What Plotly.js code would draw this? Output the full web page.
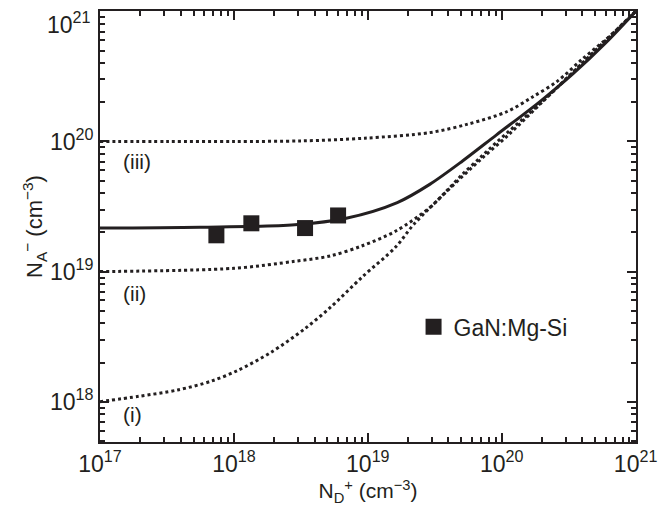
<!DOCTYPE html>
<html>
<head>
<meta charset="utf-8">
<script src="https://cdn.plot.ly/plotly-3.0.1.min.js"></script>
<style>html,body{margin:0;padding:0;background:#fff;}#chart{width:660px;height:511px;}</style>
</head>
<body>
<div id="chart"></div>
<script>
// Curve (i)
const xI = [1e17, 1.95e17, 3.8e17, 6.8e17, 1.07e18, 1.9e18, 3.4e18, 5.25e18, 9.1e18, 1.62e19, 2.2e19, 3.9e19, 6.9e19, 1.15e20, 2e20, 4e20, 1e21];
const yI = [1e18, 1.1e18, 1.23e18, 1.44e18, 1.74e18, 2.4e18, 3.65e18, 5.3e18, 9.1e18, 1.55e19, 2.3e19, 4.15e19, 7.2e19, 1.15e20, 2e20, 4e20, 1e21];
// Curve (ii)
const xII = [1e17, 1e18, 2.85e18, 5.25e18, 9.1e18, 1.62e19, 2.9e19, 3.9e19, 5.1e19, 6.9e19, 9.1e19, 2e20, 4e20, 1e21];
const yII = [1e19, 1.06e19, 1.2e19, 1.32e19, 1.58e19, 2.05e19, 3.1e19, 4.2e19, 5.6e19, 7.5e19, 9.8e19, 2.02e20, 4e20, 1e21];
// Curve (iii)
const xIII = [1e17, 3.2e17, 1e18, 3.2e18, 9.5e18, 2.9e19, 5.6e19, 1.1e20, 1.7e20, 2.6e20, 4e20, 6.8e20, 1e21];
const yIII = [1e20, 1e20, 1e20, 1.01e20, 1.06e20, 1.17e20, 1.36e20, 1.7e20, 2.2e20, 2.9e20, 4.3e20, 6.8e20, 1e21];
// Solid fit curve
const xFit = [1e17, 5.6e17, 2.85e18, 6.9e18, 1.66e19, 2.9e19, 5.1e19, 9.1e19, 1.9e20, 3.4e20, 6e20, 1e21];
const yFit = [2.16e19, 2.19e19, 2.29e19, 2.57e19, 3.39e19, 4.68e19, 7.08e19, 1.12e20, 2e20, 3.31e20, 5.75e20, 1e21];
// Measured GaN:Mg-Si
const xMeas = [7.4e17, 1.35e18, 3.4e18, 6e18];
const yMeas = [1.9e19, 2.35e19, 2.16e19, 2.7e19];
// Tick labels
const tickVals = [1e17, 1e18, 1e19, 1e20, 1e21];
const tickText = ['10<sup>17</sup>', '10<sup>18</sup>', '10<sup>19</sup>', '10<sup>20</sup>', '10<sup>21</sup>'];
const yTickVals = [1e18, 1e19, 1e20, 1e21];
const yTickText = ['10<sup>18</sup>', '10<sup>19</sup>', '10<sup>20</sup>', '10<sup>21</sup>'];

const ink = '#231f20';
const dotLine = {color: ink, width: 3, dash: '3px,3px', shape: 'spline', smoothing: 0.9};

const traces = [
  {x: xI, y: yI, mode: 'lines', line: dotLine, showlegend: false, hoverinfo: 'skip'},
  {x: xII, y: yII, mode: 'lines', line: dotLine, showlegend: false, hoverinfo: 'skip'},
  {x: xIII, y: yIII, mode: 'lines', line: dotLine, showlegend: false, hoverinfo: 'skip'},
  {x: xFit, y: yFit, mode: 'lines', line: {color: ink, width: 3, shape: 'spline', smoothing: 0.9}, showlegend: false, hoverinfo: 'skip'},
  {x: xMeas, y: yMeas, mode: 'markers', name: 'GaN:Mg-Si', marker: {symbol: 'square', size: 16, color: ink}}
];

const fontFam = 'Liberation Sans, Arial, sans-serif';
const axisCommon = {
  type: 'log', showgrid: false, zeroline: false,
  showline: true, linecolor: ink, linewidth: 2, mirror: 'allticks',
  ticks: 'inside', ticklen: 9, tickwidth: 2, tickcolor: ink,
  minor: {ticks: 'inside', ticklen: 5, tickwidth: 2, tickcolor: ink, dtick: 'D1', showgrid: false},
  tickfont: {family: fontFam, size: 23, color: ink}
};

// the top y label (10^21) sits just below the corner so it is not clipped
const yLabelsShown = yTickText.map((t, i) => i === yTickText.length - 1 ? '' : t);

const layout = {
  width: 660, height: 511,
  margin: {l: 100, r: 24, t: 11, b: 69},
  paper_bgcolor: '#fff', plot_bgcolor: '#fff',
  font: {family: fontFam, color: ink},
  xaxis: Object.assign({}, axisCommon, {
    range: [17, 21.003], tickvals: tickVals, ticktext: tickText,
    title: {text: 'N<sub>D</sub><sup>+</sup> (cm<sup>−3</sup>)', font: {size: 21, color: ink}, standoff: 0}
  }),
  yaxis: Object.assign({}, axisCommon, {
    range: [17.69, 21.003], tickvals: yTickVals, ticktext: yLabelsShown,
    title: {text: 'N<sub>A</sub><sup>−</sup> (cm<sup>−3</sup>)', font: {size: 22, color: ink}, standoff: 0}
  }),
  legend: {x: 0.585, y: 0.267, xanchor: 'left', yanchor: 'middle', bgcolor: 'rgba(0,0,0,0)',
    font: {size: 23, color: ink}},
  annotations: [
    {xref: 'paper', yref: 'paper', x: -0.013, y: 1.012, xanchor: 'right', yanchor: 'top', text: yTickText[yTickText.length - 1], showarrow: false, font: {family: fontFam, size: 23, color: ink}},
    {xref: 'paper', yref: 'paper', x: 0.04, y: 0.650, xanchor: 'left', yanchor: 'middle', text: '(iii)', showarrow: false, font: {size: 21, color: ink}},
    {xref: 'paper', yref: 'paper', x: 0.04, y: 0.345, xanchor: 'left', yanchor: 'middle', text: '(ii)', showarrow: false, font: {size: 21, color: ink}},
    {xref: 'paper', yref: 'paper', x: 0.04, y: 0.063, xanchor: 'left', yanchor: 'middle', text: '(i)', showarrow: false, font: {size: 21, color: ink}}
  ]
};

Plotly.newPlot('chart', traces, layout, {displayModeBar: false, staticPlot: true});
</script>
</body>
</html>
